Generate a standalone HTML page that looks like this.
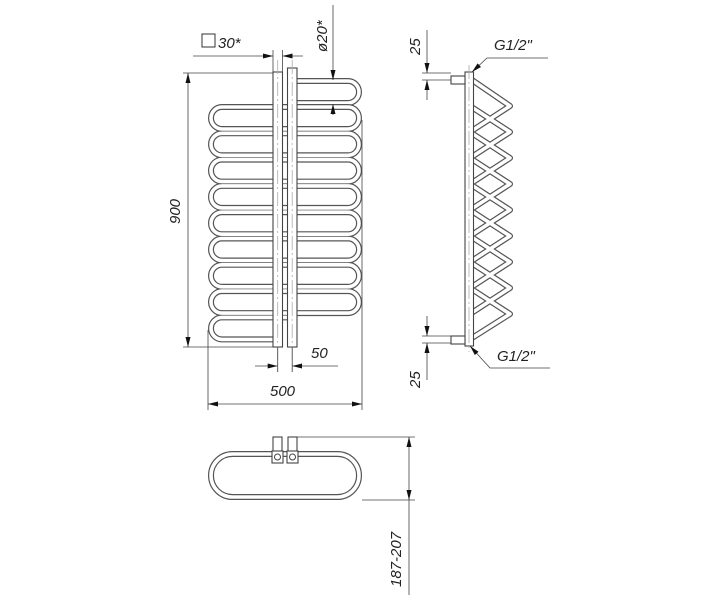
<!DOCTYPE html>
<html><head><meta charset="utf-8"><style>
html,body{margin:0;padding:0;background:#fff}
svg{display:block}
text{font-family:"Liberation Sans",sans-serif;font-style:italic;fill:#222;font-size:15px}
</style></head><body>
<svg width="712" height="600" viewBox="0 0 712 600" xmlns="http://www.w3.org/2000/svg">
<defs>
<marker id="a" viewBox="0 0 10 6" refX="10" refY="3" markerWidth="10" markerHeight="6" orient="auto-start-reverse" markerUnits="userSpaceOnUse"><path d="M0,0.5 L10,3 L0,5.5z" fill="#111"/></marker>
</defs>
<g fill="none" stroke-linecap="butt">
<path d="M297,81 H348 A11,11 0 0 1 348,103 H297" stroke="#555" stroke-width="6"/>
<path d="M297,81 H348 A11,11 0 0 1 348,103 H297" stroke="#fff" stroke-width="3.6"/>
<g stroke="#555" stroke-width="6">
<rect x="211" y="107" width="148" height="22" rx="11"/>
<rect x="211" y="133.3" width="148" height="22" rx="11"/>
<rect x="211" y="159.6" width="148" height="22" rx="11"/>
<rect x="211" y="185.9" width="148" height="22" rx="11"/>
<rect x="211" y="212.2" width="148" height="22" rx="11"/>
<rect x="211" y="238.5" width="148" height="22" rx="11"/>
<rect x="211" y="264.8" width="148" height="22" rx="11"/>
<rect x="211" y="291.1" width="148" height="22" rx="11"/>
<path d="M290,317.4 H222 A11,11 0 0 0 222,339.4 H275"/>
</g>
<g stroke="#fff" stroke-width="3.6">
<rect x="211" y="107" width="148" height="22" rx="11"/>
<rect x="211" y="133.3" width="148" height="22" rx="11"/>
<rect x="211" y="159.6" width="148" height="22" rx="11"/>
<rect x="211" y="185.9" width="148" height="22" rx="11"/>
<rect x="211" y="212.2" width="148" height="22" rx="11"/>
<rect x="211" y="238.5" width="148" height="22" rx="11"/>
<rect x="211" y="264.8" width="148" height="22" rx="11"/>
<rect x="211" y="291.1" width="148" height="22" rx="11"/>
<path d="M290,317.4 H222 A11,11 0 0 0 222,339.4 H275"/>
</g>
<rect x="273" y="72" width="9.5" height="275" fill="#fff" stroke="#444" stroke-width="1.1"/>
<rect x="287.5" y="68" width="9.5" height="279" fill="#fff" stroke="#444" stroke-width="1.1"/>
<line x1="277.7" y1="60" x2="277.7" y2="372" stroke="#aaa" stroke-width="0.8" stroke-dasharray="14,3,2,3"/>
<line x1="292.2" y1="60" x2="292.2" y2="372" stroke="#aaa" stroke-width="0.8" stroke-dasharray="14,3,2,3"/>

<g stroke="#444" stroke-width="0.8">
<line x1="273" y1="50" x2="273" y2="72"/>
<line x1="282.5" y1="50" x2="282.5" y2="72"/>
<line x1="193" y1="56" x2="273" y2="56" marker-end="url(#a)"/>
<line x1="303" y1="56" x2="282.5" y2="56" marker-end="url(#a)"/>
<line x1="333" y1="5" x2="333" y2="80" marker-end="url(#a)"/>
<line x1="333" y1="115" x2="333" y2="104" marker-end="url(#a)"/>
<line x1="183" y1="73" x2="273" y2="73"/>
<line x1="183" y1="347" x2="273" y2="347"/>
<line x1="188" y1="73" x2="188" y2="347" marker-start="url(#a)" marker-end="url(#a)"/>
<line x1="277.7" y1="347" x2="277.7" y2="372"/>
<line x1="292.2" y1="347" x2="292.2" y2="372"/>
<line x1="255" y1="366" x2="277.7" y2="366" marker-end="url(#a)"/>
<line x1="338" y1="366" x2="292.2" y2="366" marker-end="url(#a)"/>
<line x1="208" y1="330" x2="208" y2="410"/>
<line x1="362" y1="120" x2="362" y2="410"/>
<line x1="208" y1="404" x2="362" y2="404" marker-start="url(#a)" marker-end="url(#a)"/>
</g>
<rect x="202" y="34" width="13" height="13" stroke="#333" stroke-width="1"/>
</g>
<text x="218" y="48">30*</text>
<text transform="translate(327,52) rotate(-90)">ø20*</text>
<text transform="translate(180,224) rotate(-90)">900</text>
<text x="311" y="358">50</text>
<text x="270" y="396">500</text>

<g fill="none">
<g stroke="#555" stroke-width="6" stroke-linejoin="round" stroke-linecap="round">
<path d="M472,80 L510,106 L470,132 L510,158 L470,184 L510,210 L470,236 L510,262 L470,288 L510,314 L472,338"/>
<path d="M470,106 L510,132 L470,158 L510,184 L470,210 L510,236 L470,262 L510,288 L470,314"/>
</g>
<g stroke="#fff" stroke-width="3.6" stroke-linejoin="round" stroke-linecap="round">
<path d="M472,80 L510,106 L470,132 L510,158 L470,184 L510,210 L470,236 L510,262 L470,288 L510,314 L472,338"/>
<path d="M470,106 L510,132 L470,158 L510,184 L470,210 L510,236 L470,262 L510,288 L470,314"/>
</g>
<rect x="465" y="72" width="8.5" height="274" fill="#fff" stroke="#444" stroke-width="1.1"/>
<line x1="469" y1="65" x2="469" y2="352" stroke="#aaa" stroke-width="0.8" stroke-dasharray="14,3,2,3"/>
<rect x="451" y="76" width="14" height="8" fill="#fff" stroke="#444" stroke-width="1.1"/>
<rect x="451" y="336" width="14" height="8" fill="#fff" stroke="#444" stroke-width="1.1"/>
<g stroke="#444" stroke-width="0.8">
<line x1="422" y1="73" x2="451" y2="73"/>
<line x1="422" y1="80" x2="451" y2="80"/>
<line x1="427" y1="30" x2="427" y2="73" marker-end="url(#a)"/>
<line x1="427" y1="100" x2="427" y2="80" marker-end="url(#a)"/>
<line x1="422" y1="336" x2="451" y2="336"/>
<line x1="422" y1="343" x2="451" y2="343"/>
<line x1="427" y1="316" x2="427" y2="336" marker-end="url(#a)"/>
<line x1="427" y1="380" x2="427" y2="343" marker-end="url(#a)"/>
<polyline points="548,58 487,58 472,72" marker-end="url(#a)" fill="none"/>
<polyline points="550,368 490,368 470,346" marker-end="url(#a)" fill="none"/>
</g>
</g>
<text transform="translate(420,55) rotate(-90)">25</text>
<text transform="translate(420,388) rotate(-90)">25</text>
<text x="494" y="50">G1/2"</text>
<text x="497" y="361">G1/2"</text>

<g fill="none">
<rect x="211" y="454" width="148" height="43" rx="21.5" stroke="#555" stroke-width="6"/>
<rect x="211" y="454" width="148" height="43" rx="21.5" stroke="#fff" stroke-width="3.6"/>
<rect x="273" y="437" width="9" height="15" fill="#fff" stroke="#444" stroke-width="1.1"/>
<rect x="288" y="437" width="9" height="15" fill="#fff" stroke="#444" stroke-width="1.1"/>
<rect x="272" y="451" width="11" height="12" fill="#fff" stroke="#444" stroke-width="1.1"/>
<rect x="287" y="451" width="11" height="12" fill="#fff" stroke="#444" stroke-width="1.1"/>
<circle cx="277.5" cy="457" r="3" stroke="#444" stroke-width="1"/>
<circle cx="292.5" cy="457" r="3" stroke="#444" stroke-width="1"/>
<g stroke="#444" stroke-width="0.8">
<line x1="297" y1="437" x2="415" y2="437"/>
<line x1="362" y1="500" x2="415" y2="500"/>
<line x1="409" y1="437" x2="409" y2="500" marker-start="url(#a)" marker-end="url(#a)"/>
<line x1="409" y1="500" x2="409" y2="595"/>
</g>
</g>
<text transform="translate(401,587) rotate(-90)">187-207</text>
</svg>
</body></html>
